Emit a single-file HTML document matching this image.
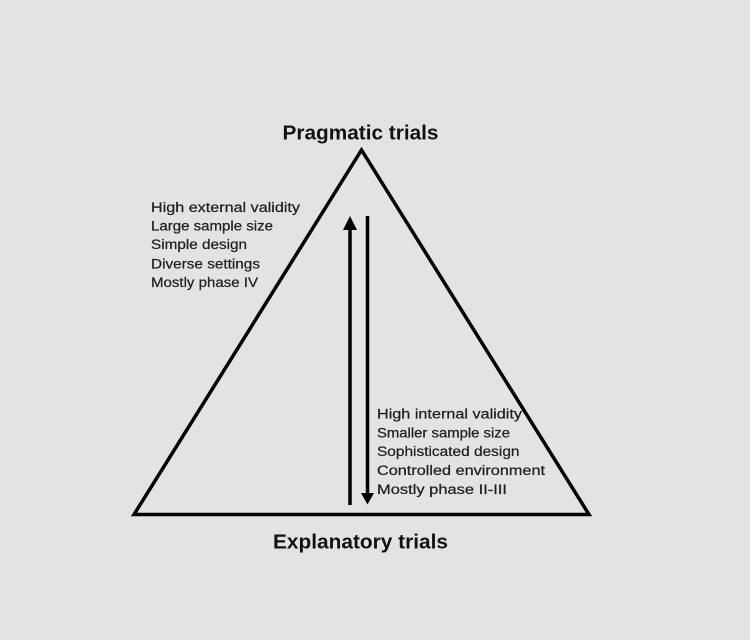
<!DOCTYPE html>
<html>
<head>
<meta charset="utf-8">
<style>
  html, body { margin: 0; padding: 0; background: #e3e3e3; }
  svg { display: block; }
  text { font-family: "Liberation Sans", "DejaVu Sans", sans-serif; fill: #1e1e1e; }
  .t { font-size: 20.5px; font-weight: bold; fill: #111; }
  .s { font-size: 13.5px; fill: #222; stroke: #222; stroke-width: 0.25px; }
</style>
</head>
<body>
<svg width="750" height="640" viewBox="0 0 750 640" xmlns="http://www.w3.org/2000/svg">
  <rect x="0" y="0" width="750" height="640" fill="#e3e3e3"/>
  <!-- Triangle -->
  <polygon points="361.5,150 589,514.5 134,514.5" fill="none" stroke="#000" stroke-width="3.5" stroke-linejoin="miter"/>

  <!-- Up arrow -->
  <line x1="350" y1="505" x2="350" y2="226" stroke="#000" stroke-width="3.5"/>
  <polygon points="350,216 357,230 343,230" fill="#000"/>

  <!-- Down arrow -->
  <line x1="367.5" y1="216" x2="367.5" y2="495" stroke="#000" stroke-width="3.5"/>
  <polygon points="367.5,504.5 361,493 374,493" fill="#000"/>

  <!-- Titles -->
  <text class="t" x="282.5" y="139.5" textLength="156" lengthAdjust="spacingAndGlyphs">Pragmatic trials</text>
  <text class="t" x="273" y="548.5" textLength="175" lengthAdjust="spacingAndGlyphs">Explanatory trials</text>

  <!-- Left list -->
  <text class="s" x="151" y="212" textLength="149" lengthAdjust="spacingAndGlyphs">High external validity</text>
  <text class="s" x="151" y="230.5" textLength="122" lengthAdjust="spacingAndGlyphs">Large sample size</text>
  <text class="s" x="151" y="249" textLength="96" lengthAdjust="spacingAndGlyphs">Simple design</text>
  <text class="s" x="151" y="268.5" textLength="109" lengthAdjust="spacingAndGlyphs">Diverse settings</text>
  <text class="s" x="151" y="287" textLength="107" lengthAdjust="spacingAndGlyphs">Mostly phase IV</text>

  <!-- Right list -->
  <text class="s" x="377" y="418.5" textLength="145" lengthAdjust="spacingAndGlyphs">High internal validity</text>
  <text class="s" x="377" y="437.5" textLength="133" lengthAdjust="spacingAndGlyphs">Smaller sample size</text>
  <text class="s" x="377" y="456" textLength="142.5" lengthAdjust="spacingAndGlyphs">Sophisticated design</text>
  <text class="s" x="377" y="475" textLength="168" lengthAdjust="spacingAndGlyphs">Controlled environment</text>
  <text class="s" x="377" y="494" textLength="130" lengthAdjust="spacingAndGlyphs">Mostly phase II-III</text>
</svg>
</body>
</html>
